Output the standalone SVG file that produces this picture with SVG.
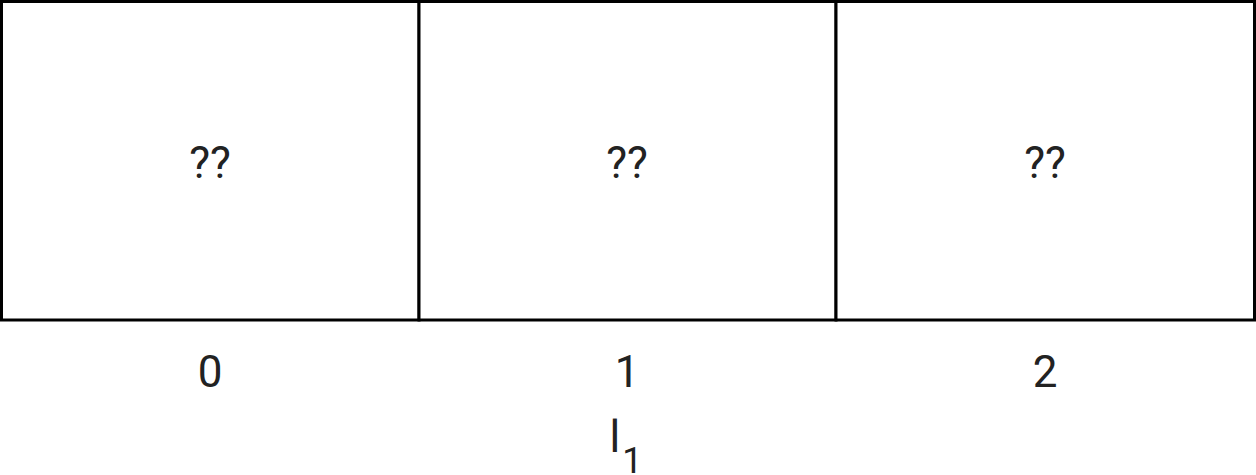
<svg xmlns="http://www.w3.org/2000/svg" width="1256" height="475" viewBox="0 0 1256 475">
<style>
.cell{fill:#fff;stroke:#000;stroke-width:3}
.t{font-family:Roboto,"Liberation Sans",sans-serif;font-size:44px;fill:#222;text-anchor:middle}
</style>
<rect width="1256" height="475" fill="#fff"/>
<g id="cell0"><rect class="cell" x="1.5" y="1.5" width="417.5" height="318.5"/><text class="t" x="210" y="178">??</text></g>
<g id="cell1"><rect class="cell" x="419" y="1.5" width="417" height="318.5"/><text class="t" x="627" y="178">??</text></g>
<g id="cell2"><rect class="cell" x="836" y="1.5" width="418.5" height="318.5"/><text class="t" x="1045" y="178">??</text></g>
<g id="indices">
<text class="t" x="210" y="387">0</text>
<text class="t" x="627" y="387">1</text>
<text class="t" x="1045" y="387">2</text>
</g>
<g id="label"><text class="t" x="626" y="452">l<tspan font-size="36" dx="2" dy="21">1</tspan></text></g>
<g id="connectors"></g>
</svg>
